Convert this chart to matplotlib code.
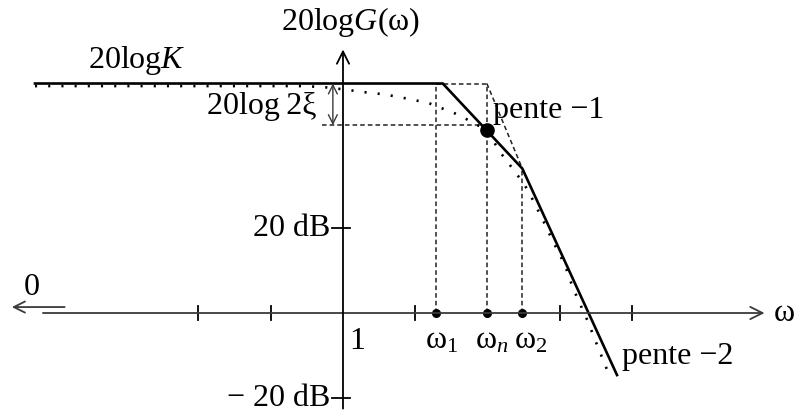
import matplotlib.pyplot as plt

plt.rcParams['font.family'] = ['Liberation Serif', 'DejaVu Serif']
plt.rcParams['mathtext.fontset'] = 'custom'
plt.rcParams['mathtext.rm'] = 'Liberation Serif'
plt.rcParams['mathtext.it'] = 'Liberation Serif:italic'

# x in decades (log10 omega), y in dB
K_db = 54
w1, wn, w2 = 1.29, 1.99, 2.48
res_db = 44.2          # 20logK - 20log2xi
dot_db = 43

asym_x = [-4.26, 1.38, 2.48, 3.79]
asym_db = [54, 54, 34, -14.6]

real_x = [-4.26, -0.59, -0.29, 0.07, 0.26, 0.41, 0.61, 0.79, 0.97, 1.16, 1.31,
          1.48, 1.66, 1.80, 1.99, 2.17, 2.28, 2.39, 2.49, 2.59, 2.75, 2.90,
          3.07, 3.18, 3.39, 3.53, 3.67]
real_db = [53.4, 53.4, 53.2, 52.5, 52.0, 51.8, 51.3, 50.8, 50.1, 49.6, 48.5,
           47.5, 46.1, 44.7, 43.1, 37.9, 35.5, 32.9, 30.8, 27.8, 22.4, 17.0,
           11.3, 5.9, -2.1, -8.2, -14.1]

x_ticks = [-2, -1, 1, 3, 4]
y_ticks = [20, -20]
y_tick_labels = ['20 dB', '\u2212 20 dB']

fig = plt.figure(figsize=(8, 4.15), dpi=100)
ax = fig.add_axes([0, 0, 1, 1])
ax.set_xlim(-4.744, 6.321)
ax.set_ylim(-24.0, 73.65)
ax.axis('off')

axc = '#3a3a3a'
fs = 23

# axes
ax.annotate('', xy=(5.83, 0), xytext=(-4.15, 0),
            arrowprops=dict(arrowstyle='->', color=axc, lw=1.3,
                            mutation_scale=22, shrinkA=0, shrinkB=0))
ax.annotate('', xy=(0, 62.0), xytext=(0, -22.5),
            arrowprops=dict(arrowstyle='->', color='black', lw=1.3,
                            mutation_scale=22, shrinkA=0, shrinkB=0))
ax.annotate('', xy=(-4.58, 1.4), xytext=(-3.85, 1.4),
            arrowprops=dict(arrowstyle='->', color=axc, lw=1.3,
                            mutation_scale=20, shrinkA=0, shrinkB=0))

for t in x_ticks:
    ax.plot([t, t], [-1.6, 1.6], color='black', lw=1.3)
for t, lab in zip(y_ticks, y_tick_labels):
    ax.plot([-0.15, 0.1], [t, t], color='black', lw=1.3)
    ax.text(-0.18, t, lab, ha='right', va='center', fontsize=fs)

# dashed construction lines
dk = dict(color='#222222', lw=1.1, linestyle=(0, (3, 2)))
ax.plot([w1, w1], [0, K_db], **dk)
ax.plot([wn, wn], [0, K_db], **dk)
ax.plot([w2, w2], [0, asym_db[2]], **dk)
ax.plot([w1, wn], [K_db, K_db], **dk)
ax.plot([wn, w2], [K_db, asym_db[2]], **dk)
ax.plot([-0.29, wn], [res_db, res_db], **dk)

# real curve (dotted)
ax.plot(real_x, real_db, color='black', lw=1.9, linestyle=(0, (0.8, 4.2)))

# asymptotes
ax.plot(asym_x, asym_db, color='black', lw=1.9, solid_joinstyle='miter')

# points
ax.plot([w1, wn, w2], [0, 0, 0], 'o', color='black', ms=5.5)
ax.plot([wn], [dot_db], 'o', color='black', ms=9.5)

# 20log2xi double arrow
ax.annotate('', xy=(-0.14, res_db), xytext=(-0.14, K_db),
            arrowprops=dict(arrowstyle='<->', color=axc, lw=1.0,
                            mutation_scale=16, shrinkA=0, shrinkB=0))

# labels
ax.text(0.1, 68.5, r'20log$G$($\mathrm{\omega}$)', ha='center', va='center', fontsize=fs)
ax.text(-2.85, 59.5, r'20log$K$', ha='center', va='center', fontsize=fs)
ax.text(-0.36, 48.6, '20log\u20092\u03be', ha='right', va='center', fontsize=fs)
ax.text(2.07, 47.6, 'pente \u22121', ha='left', va='center', fontsize=fs)
ax.text(3.86, -10.2, 'pente \u22122', ha='left', va='center', fontsize=fs)
ax.text(-4.3, 6.0, '0', ha='center', va='center', fontsize=fs)
ax.text(6.1, 0, '\u03c9', ha='center', va='center', fontsize=fs)
ax.text(0.2, -6.8, '1', ha='center', va='center', fontsize=fs)
ax.text(w1 + 0.07, -6.5, r'$\mathrm{\omega}_1$', ha='center', va='center', fontsize=fs)
ax.text(wn + 0.07, -6.5, r'$\mathrm{\omega}_n$', ha='center', va='center', fontsize=fs)
ax.text(w2 + 0.12, -6.5, r'$\mathrm{\omega}_2$', ha='center', va='center', fontsize=fs)

fig.savefig('out.png', dpi=100)
